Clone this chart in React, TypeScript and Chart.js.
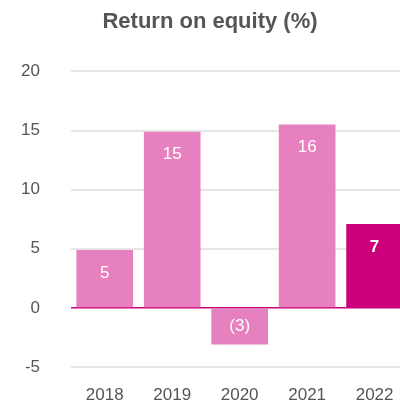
import React, { useEffect, useRef } from "react";
import { Chart, registerables } from "chart.js";

Chart.register(...registerables);

const years = ["2018", "2019", "2020", "2021", "2022"];
const roe = [4.9, 14.9, -3.1, 15.5, 7.1];
const labels = ["5", "15", "(3)", "16", "7"];
const barColors = ["#e680be", "#e680be", "#e680be", "#e680be", "#cc007a"];
const yTicks = [-5, 0, 5, 10, 15, 20];

const FONT = "'Liberation Sans', Arial, sans-serif";

const valueLabels = {
  id: "valueLabels",
  afterDatasetsDraw(chart: any) {
    const ctx = chart.ctx;
    const meta = chart.getDatasetMeta(0);
    const zero = chart.scales.y.getPixelForValue(0);
    meta.data.forEach((bar: any, i: number) => {
      const v = roe[i];
      const last = i === roe.length - 1;
      ctx.save();
      ctx.fillStyle = "#ffffff";
      ctx.font = (last ? "bold " : "") + "17px " + FONT;
      ctx.textAlign = "center";
      ctx.textBaseline = "middle";
      const y = v >= 0 ? bar.y + 23 : zero + 18;
      ctx.fillText(labels[i], bar.x, y);
      ctx.restore();
    });
  },
};

export default function App() {
  const ref = useRef<HTMLCanvasElement>(null);
  useEffect(() => {
    if (!ref.current) return;
    const chart = new Chart(ref.current, {
      type: "bar",
      data: {
        labels: years,
        datasets: [
          {
            data: roe,
            backgroundColor: barColors,
            barPercentage: 0.84,
            categoryPercentage: 1,
            borderWidth: 0,
          },
        ],
      },
      options: {
        animation: false,
        responsive: false,
        maintainAspectRatio: false,
        layout: { padding: 0 },
        plugins: {
          legend: { display: false },
          tooltip: { enabled: false },
          title: {
            display: true,
            text: "Return on equity (%)",
            color: "#555555",
            font: { size: 22, weight: "bold", family: FONT },
            padding: { top: 1, bottom: 36 },
          },
        },
        scales: {
          x: {
            afterFit: (axis: any) => {
              axis.height = 36;
            },
            grid: { display: false, drawTicks: false },
            border: { display: false },
            ticks: {
              color: "#555555",
              padding: 18.5,
              font: { size: 17, family: FONT },
            },
          },
          y: {
            min: -5,
            max: 20,
            afterBuildTicks: (axis: any) => {
              axis.ticks = yTicks.map((v) => ({ value: v }));
            },
            afterFit: (axis: any) => {
              axis.width = 63;
              axis.paddingTop = 10;
              axis.paddingBottom = 10;
            },
            grid: {
              drawTicks: false,
              color: (c: any) => (c.tick && c.tick.value === 0 ? "#cc007a" : "#e6e6e6"),
              lineWidth: (c: any) => (c.tick && c.tick.value === 0 ? 1.5 : 2),
            },
            border: { display: false },
            ticks: {
              color: "#555555",
              padding: 31,
              font: { size: 17, family: FONT },
            },
          },
        },
      },
      plugins: [valueLabels],
    });
    return () => chart.destroy();
  }, []);
  return (
    <div
      style={{
        position: "fixed",
        left: 8,
        top: 8,
        width: 392,
        height: 395,
        overflow: "hidden",
      }}
    >
      <canvas ref={ref} width={404} height={395} style={{ display: "block" }} />
    </div>
  );
}
